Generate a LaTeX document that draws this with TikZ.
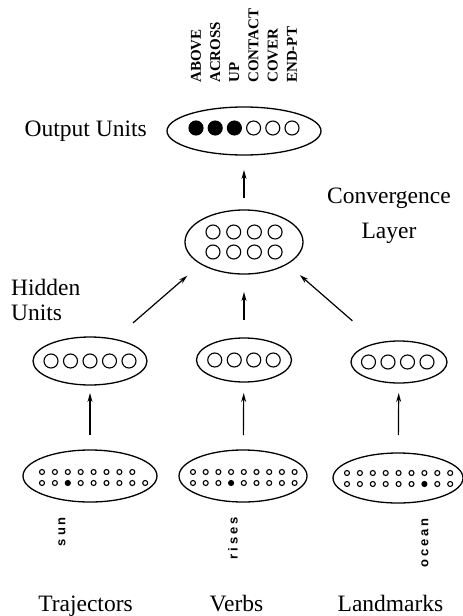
\documentclass[tikz,border=0pt]{standalone}
\usepackage{fontspec}
\setmainfont{Liberation Serif}
\newfontfamily\wordfont[LetterSpace=22]{Liberation Sans Bold}
\usepackage{tikz}
\usetikzlibrary{shapes.geometric, arrows.meta, positioning, calc}
\tikzset{
    layer/.style={ellipse, draw, line width=1.3pt, inner sep=0pt, outer sep=0pt},
    unit/.style={circle, draw, line width=1.1pt, minimum size=14pt, inner sep=0pt},
    onunit/.style={unit, fill=black},
    dot/.style={circle, draw, line width=1.1pt, minimum size=5pt, inner sep=0pt},
    ondot/.style={dot, fill=black},
    arrow/.style={line width=1.2pt, -{Stealth[length=9pt, width=5pt]}},
    caption/.style={font=\fontsize{23.5}{25}\selectfont, inner sep=0pt},
    feature/.style={font=\fontsize{15}{15}\selectfont\bfseries, rotate=90, anchor=west, inner sep=0pt},
    word/.style={font=\fontsize{13}{13}\selectfont\wordfont, rotate=90, anchor=east, inner sep=0pt}
}

\begin{document}
\begin{tikzpicture}[x=1pt, y=-1pt]
    \useasboundingbox (0,0) rectangle (463,616);
    % output layer
    \node[layer, minimum width=154pt, minimum height=48pt] (out) at (244,131) {};
    \foreach \name/\st [count=\i from 0] in {ABOVE/onunit, ACROSS/onunit, UP/onunit, CONTACT/unit, COVER/unit, END-PT/unit} {
        \node[\st] (o\i) at ($(out)+(\i*19.2-48,-3)$) {};
        \node[feature] (f\i) at (o\i |- 0,83) {\name};
    }
    \node[caption, left=20pt of out] (outcap) {Output Units};
    % convergence layer
    \node[layer, minimum width=118pt, minimum height=64pt] (conv) at (244,242) {};
    \foreach \r in {0,1}
        \foreach \c in {0,...,3}
            \node[unit] (c\r\c) at ($(conv)+(\c*20.7-31,\r*20-10)$) {};
    \node[caption, align=center, font=\fontsize{23.5}{35}\selectfont] (convcap) at (389,216) {Convergence\\Layer};
    % hidden units
    \node[layer, minimum width=114pt, minimum height=48pt] (hidT) at (90,361) {};
    \node[layer, minimum width=95pt, minimum height=44pt] (hidV) at (244,360) {};
    \node[layer, minimum width=96pt, minimum height=42pt] (hidL) at (399,362) {};
    \foreach \c in {0,...,4} \node[unit] (ht\c) at ($(hidT)+(\c*19.5-39,0)$) {};
    \foreach \c in {0,...,3} \node[unit] (hv\c) at ($(hidV)+(\c*19.5-29.25,0)$) {};
    \foreach \c in {0,...,3} \node[unit] (hl\c) at ($(hidL)+(\c*19.5-30.5,0)$) {};
    \node[caption, align=left, anchor=north west, font=\fontsize{23.5}{25}\selectfont] (hidcap) at (11,279) {Hidden\\Units};
    % input layers
    \node[layer, minimum width=134pt, minimum height=52pt] (inT) at (90,476) {};
    \node[layer, minimum width=128pt, minimum height=52pt] (inV) at (243,476) {};
    \node[layer, minimum width=130pt, minimum height=50pt] (inL) at (398,478) {};
    \foreach \c in {0,...,7} \node[dot] (ta\c) at (42+\c*12.9,472) {};
    \foreach \c in {0,...,8} {
        \ifnum\c=2 \def\st{ondot}\else\def\st{dot}\fi
        \node[\st] (tb\c) at (42+\c*12.9,483) {};
        \node[dot] (va\c) at (193+\c*12.7,472) {};
        \ifnum\c=3 \def\st{ondot}\else\def\st{dot}\fi
        \node[\st] (vb\c) at (193+\c*12.7,483) {};
        \node[dot] (la\c) at (347+\c*12.9,473) {};
        \ifnum\c=6 \def\st{ondot}\else\def\st{dot}\fi
        \node[\st] (lb\c) at (347+\c*12.9,484) {};
    }
    \node[word] (sun) at (62,517) {sun};
    \node[word] (rises) at (233,517) {rises};
    \node[word] (ocean) at (425,518) {ocean};
    \node[caption, anchor=base] (traj) at (85.5,611) {Trajectors};
    \node[caption, anchor=base] (verbs) at (236.5,611) {Verbs};
    \node[caption, anchor=base] (land) at (390.5,611) {Landmarks};
    % connections
    \draw[arrow, shorten <=12pt, shorten >=15pt] (conv) -- (out);
    \draw[arrow, shorten <=18pt, shorten >=18pt] (hidV) -- (conv);
    \draw[arrow, shorten <=25pt, shorten >=18pt] (hidT.42) -- (conv.207);
    \draw[arrow, shorten <=34pt, shorten >=17pt] (hidL.138) -- (conv.333);
    \draw[arrow, shorten <=15pt, shorten >=8pt] (inT) -- (hidT);
    \draw[arrow, shorten <=15pt, shorten >=11pt] (inV) -- (hidV);
    \draw[arrow, shorten <=18pt, shorten >=10pt] (inL) -- (hidL);
\end{tikzpicture}
\end{document}
